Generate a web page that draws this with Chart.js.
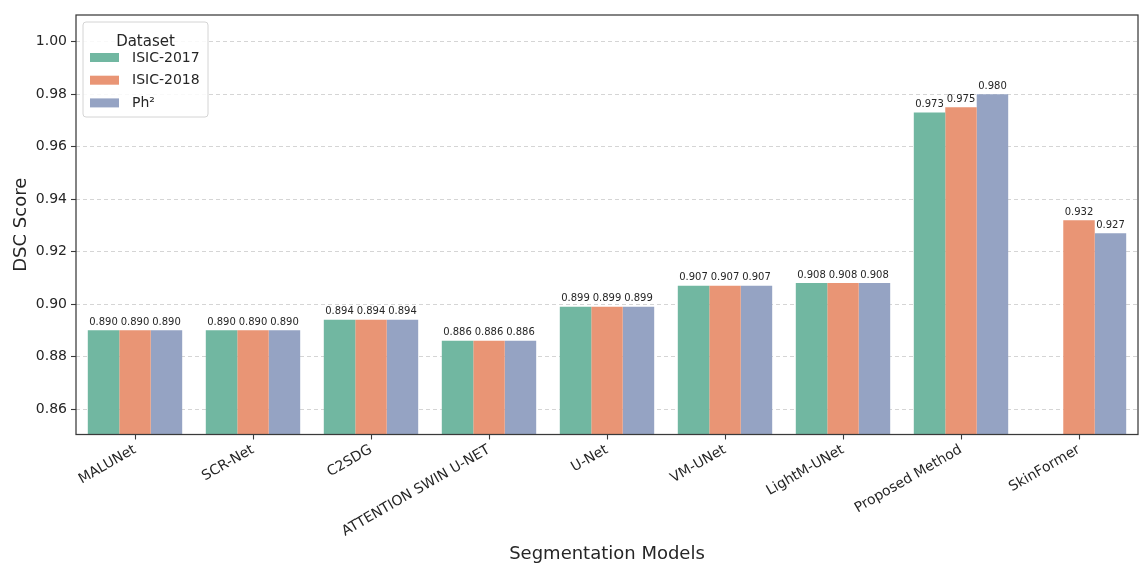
<!DOCTYPE html>
<html>
<head>
<meta charset="utf-8">
<style>
  html, body { margin: 0; padding: 0; background: #ffffff; }
  #wrap { width: 1141px; height: 564px; position: relative; }
</style>
<script src="https://cdn.jsdelivr.net/npm/chart.js@4.4.1/dist/chart.umd.min.js"></script>
</head>
<body>
<div id="wrap"><canvas id="chart" width="1141" height="564"></canvas></div>
<script>
// Segmentation models compared on three skin-lesion datasets (DSC score)
const categories = ['MALUNet', 'SCR-Net', 'C2SDG', 'ATTENTION SWIN U-NET', 'U-Net',
                    'VM-UNet', 'LightM-UNet', 'Proposed Method', 'SkinFormer'];
const isic2017 = [0.890, 0.890, 0.894, 0.886, 0.899, 0.907, 0.908, 0.973, null];
const isic2018 = [0.890, 0.890, 0.894, 0.886, 0.899, 0.907, 0.908, 0.975, 0.932];
const ph2      = [0.890, 0.890, 0.894, 0.886, 0.899, 0.907, 0.908, 0.980, 0.927];
const seriesNames = ['ISIC-2017', 'ISIC-2018', 'Ph\u00B2'];
const yTickValues = [0.86, 0.88, 0.90, 0.92, 0.94, 0.96, 0.98, 1.00];

const FONT = "'DejaVu Sans', sans-serif";
const TEXT = '#262626';
const SPINE = '#3a3a3a';
const colors = ['#71b7a1', '#e99575', '#95a3c3'];

// frame around the plotting area
const framePlugin = {
  id: 'frame',
  afterDraw(chart) {
    const { ctx, chartArea: a } = chart;
    ctx.save();
    ctx.strokeStyle = SPINE;
    ctx.lineWidth = 1.25;
    ctx.strokeRect(a.left, a.top, a.right - a.left, a.bottom - a.top);
    ctx.restore();
  }
};

// value printed above each bar
const valueLabels = {
  id: 'valueLabels',
  afterDatasetsDraw(chart) {
    const { ctx } = chart;
    ctx.save();
    ctx.font = '10px ' + FONT;
    ctx.fillStyle = TEXT;
    ctx.textAlign = 'center';
    ctx.textBaseline = 'alphabetic';
    chart.data.datasets.forEach((ds, di) => {
      const meta = chart.getDatasetMeta(di);
      meta.data.forEach((bar, i) => {
        const v = ds.data[i];
        if (v === null || v === undefined) return;
        ctx.fillText(v.toFixed(3), bar.x, bar.y - 5.5);
      });
    });
    ctx.restore();
  }
};

// legend box in the upper-left corner of the plot
const insetLegend = {
  id: 'insetLegend',
  afterDraw(chart) {
    const { ctx, chartArea: a } = chart;
    const x = a.left + 7, y = a.top + 7, w = 125, h = 95;
    ctx.save();
    ctx.beginPath();
    ctx.roundRect(x, y, w, h, 3);
    ctx.fillStyle = 'rgba(255,255,255,0.85)';
    ctx.fill();
    ctx.strokeStyle = '#d4d4d4';
    ctx.lineWidth = 1;
    ctx.stroke();
    ctx.fillStyle = TEXT;
    ctx.font = '15px ' + FONT;
    ctx.textAlign = 'center';
    ctx.textBaseline = 'alphabetic';
    ctx.fillText('Dataset', x + w / 2, y + 24);
    ctx.font = '14px ' + FONT;
    ctx.textAlign = 'left';
    ctx.textBaseline = 'middle';
    chart.data.datasets.forEach((ds, i) => {
      const cy = y + 35.5 + i * 22.7;
      ctx.fillStyle = ds.backgroundColor;
      ctx.fillRect(x + 7, cy - 4.5, 29, 9);
      ctx.fillStyle = TEXT;
      ctx.fillText(ds.label, x + 49, cy + 0.5);
    });
    ctx.restore();
  }
};

new Chart(document.getElementById('chart'), {
  type: 'bar',
  data: {
    labels: categories,
    datasets: [
      { label: seriesNames[0], data: isic2017, backgroundColor: colors[0] },
      { label: seriesNames[1], data: isic2018, backgroundColor: colors[1] },
      { label: seriesNames[2], data: ph2, backgroundColor: colors[2] }
    ]
  },
  options: {
    responsive: false,
    animation: false,
    devicePixelRatio: 1,
    layout: { padding: { top: 15, right: 3, left: 0, bottom: 0 } },
    datasets: { bar: { categoryPercentage: 0.8, barPercentage: 1.0, borderWidth: 0 } },
    plugins: {
      legend: { display: false },
      tooltip: { enabled: false }
    },
    scales: {
      x: {
        offset: true,
        grid: {
          offset: false,
          drawOnChartArea: false,
          tickLength: 5,
          tickColor: SPINE,
          tickWidth: 1.1
        },
        border: { display: false },
        ticks: {
          font: { family: FONT, size: 14 },
          color: TEXT,
          autoSkip: false,
          maxRotation: 30,
          minRotation: 30,
          padding: 2
        },
        title: {
          display: true,
          text: 'Segmentation Models',
          font: { family: FONT, size: 18 },
          color: TEXT,
          padding: { top: 0, bottom: -1 }
        },
        afterFit(scale) { scale.height = 129.5; }
      },
      y: {
        min: 0.8503,
        max: 1.0102,
        grid: {
          color: 'rgba(180,180,180,0.7)',
          lineWidth: 0.8,
          tickLength: 5,
          tickColor: SPINE,
          tickWidth: 1.1,
          tickBorderDash: []
        },
        border: { display: false, dash: [4, 3] },
        afterBuildTicks(scale) { scale.ticks = yTickValues.map(v => ({ value: v })); },
        ticks: {
          font: { family: FONT, size: 14 },
          color: TEXT,
          padding: 4,
          callback: v => Number(v).toFixed(2)
        },
        title: {
          display: true,
          text: 'DSC Score',
          font: { family: FONT, size: 18 },
          color: TEXT,
          padding: { top: 10.5, bottom: 0 }
        },
        afterFit(scale) { scale.width = 76; }
      }
    }
  },
  plugins: [framePlugin, valueLabels, insetLegend, {
    // dashed horizontal gridlines
    id: 'dashGrid',
    beforeDraw(chart) {
      chart.options.scales.y.grid.borderDash = [4, 3];
    }
  }]
});
</script>
</body>
</html>
